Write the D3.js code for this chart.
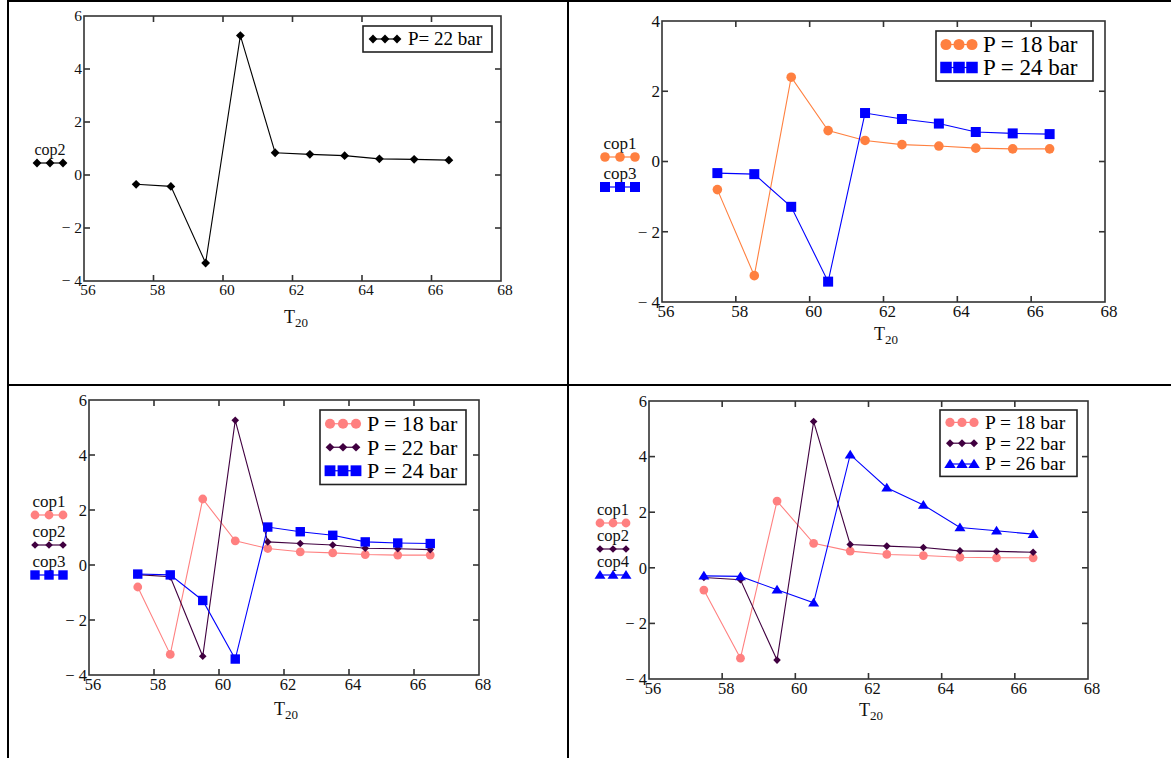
<!DOCTYPE html>
<html>
<head>
<meta charset="utf-8">
<script src="https://cdn.jsdelivr.net/npm/d3@7"></script>
<style>
body { margin: 0; background: #fff; }
svg { display: block; }
svg text { font-family: "Liberation Serif", "DejaVu Serif", serif; }
</style>
</head>
<body>
<div id="chart"></div>
<script>
// T20 sample points and the four cop series
const temps = [57.5, 58.5, 59.5, 60.5, 61.5, 62.5, 63.5, 64.5, 65.5, 66.5];
const cop1 = [-0.8, -3.25, 2.4, 0.88, 0.6, 0.48, 0.44, 0.38, 0.36, 0.36];
const cop2 = [-0.35, -0.43, -3.32, 5.26, 0.84, 0.78, 0.73, 0.61, 0.59, 0.56];
const cop3 = [-0.33, -0.36, -1.29, -3.42, 1.38, 1.21, 1.08, 0.84, 0.8, 0.78];
const cop4 = [-0.29, -0.31, -0.79, -1.26, 4.07, 2.88, 2.26, 1.45, 1.33, 1.21];

const xTicks = [56, 58, 60, 62, 64, 66, 68];
const yTicksTall = [-4, -2, 0, 2, 4, 6];
const yTicksShort = [-4, -2, 0, 2, 4];

const W = 1171, H = 758;

const orange = "#ff8040", salmon = "#ff8080", plum = "#400040", blue = "#0000ff";

const s18o = {name: "cop1", values: cop1, color: orange, shape: "circle", r: 4.8, legend: "P = 18 bar"};
const s18 = {name: "cop1", values: cop1, color: salmon, shape: "circle", r: 4.4, legend: "P = 18 bar"};
const s22k = {name: "cop2", values: cop2, color: "#000", shape: "diamond", r: 4.4, legend: "P= 22 bar"};
const s22 = {name: "cop2", values: cop2, color: plum, shape: "diamond", r: 3.8, legend: "P = 22 bar"};
const s24 = {name: "cop3", values: cop3, color: blue, shape: "square", r: 5, legend: "P = 24 bar"};
const s24b = {name: "cop3", values: cop3, color: blue, shape: "square", r: 4.7, legend: "P = 24 bar"};
const s26 = {name: "cop4", values: cop4, color: blue, shape: "triangle", r: 5, legend: "P = 26 bar"};

const panels = [
    {box: [84, 16, 501, 281], yTicks: yTicksTall, tickFont: 15.5, series: [s22k],
     legend: {x: 363, y: 26, w: 129, rowH: 22, font: 19, symW: 24, mk: 1.0},
     yLab: {cx: 50, y0: 155, step: 29, font: 16, w: 26}, xLab: [296, 323]},
    {box: [662, 21, 1105, 302], yTicks: yTicksShort, tickFont: 17, series: [s18o, s24],
     legend: {x: 936, y: 31, w: 157, rowH: 23, font: 23, symW: 26, mk: 1.15},
     yLab: {cx: 620, y0: 149, step: 30, font: 17, w: 30}, xLab: [886, 340]},
    {box: [89, 400, 479, 675], yTicks: yTicksTall, tickFont: 16.5, series: [s18, s22, s24b],
     legend: {x: 320, y: 410, w: 146, rowH: 23.5, font: 22, symW: 26, mk: 1.15},
     yLab: {cx: 49, y0: 507, step: 30, font: 17, w: 28}, xLab: [286, 715]},
    {box: [649, 401, 1088, 679], yTicks: yTicksTall, tickFont: 16.5, series: [s18, s22, s26],
     legend: {x: 940, y: 410, w: 137, rowH: 20.8, font: 19.5, symW: 24, mk: 1.05},
     yLab: {cx: 613, y0: 515, step: 26, font: 16.5, w: 26}, xLab: [871, 716]}
];

const svg = d3.select("#chart").append("svg")
    .attr("width", W).attr("height", H);

svg.append("rect").attr("width", W).attr("height", H).attr("fill", "#fff");

// table grid lines
const grid = svg.append("g").attr("stroke", "#000").attr("stroke-width", 2);
grid.append("line").attr("x1", 7).attr("x2", W).attr("y1", 1).attr("y2", 1);
grid.append("line").attr("x1", 7).attr("x2", W).attr("y1", 385).attr("y2", 385);
grid.append("line").attr("x1", 8).attr("x2", 8).attr("y1", 0).attr("y2", H);
grid.append("line").attr("x1", 568).attr("x2", 568).attr("y1", 0).attr("y2", H);

function marker(g, s, x, y, k = 1) {
    let p;
    const r = s.r * k;
    if (s.shape === "circle") {
        p = g.append("circle").attr("cx", x).attr("cy", y).attr("r", r);
    } else if (s.shape === "square") {
        p = g.append("rect").attr("x", x - r).attr("y", y - r)
            .attr("width", 2 * r).attr("height", 2 * r);
    } else if (s.shape === "diamond") {
        p = g.append("path").attr("d", `M${x},${y - r}L${x + r},${y}L${x},${y + r}L${x - r},${y}Z`);
    } else {
        p = g.append("path").attr("d", `M${x},${y - r}L${x + r * 1.1},${y + r * 0.75}L${x - r * 1.1},${y + r * 0.75}Z`);
    }
    p.attr("fill", s.color);
}

function symbolRow(g, s, x0, y, w, k = 1) {
    g.append("line").attr("x1", x0).attr("x2", x0 + w).attr("y1", y).attr("y2", y)
        .attr("stroke", s.color).attr("stroke-width", 1.2);
    [0, 0.5, 1].forEach(f => marker(g, s, x0 + f * w, y, k));
}

function fmt(v) {
    return v < 0 ? "\u2212 " + Math.abs(v) : String(v);
}

panels.forEach(pn => {
    const [x0, y0, x1, y1] = pn.box;
    const x = d3.scaleLinear().domain([56, 68]).range([x0, x1]);
    const y = d3.scaleLinear().domain(d3.extent(pn.yTicks)).range([y1, y0]);
    const g = svg.append("g");

    // data
    pn.series.forEach(s => {
        const pts = temps.map((t, i) => [x(t), y(s.values[i])]);
        g.append("path")
            .attr("d", d3.line()(pts))
            .attr("fill", "none").attr("stroke", s.color).attr("stroke-width", 1.1);
        const mg = g.append("g");
        pts.forEach(p => marker(mg, s, p[0], p[1]));
    });

    // frame and inward ticks
    const fr = g.append("g").attr("stroke", "#333").attr("stroke-width", 1.6).attr("fill", "none");
    fr.append("rect").attr("x", x0).attr("y", y0).attr("width", x1 - x0).attr("height", y1 - y0);
    const tl = 6;
    xTicks.slice(1, -1).forEach(t => {
        fr.append("line").attr("x1", x(t)).attr("x2", x(t)).attr("y1", y1).attr("y2", y1 - tl);
        fr.append("line").attr("x1", x(t)).attr("x2", x(t)).attr("y1", y0).attr("y2", y0 + tl);
    });
    pn.yTicks.slice(1, -1).forEach(t => {
        fr.append("line").attr("x1", x0).attr("x2", x0 + tl).attr("y1", y(t)).attr("y2", y(t));
        fr.append("line").attr("x1", x1).attr("x2", x1 - tl).attr("y1", y(t)).attr("y2", y(t));
    });

    // tick labels
    const lab = g.append("g").attr("font-size", pn.tickFont).attr("fill", "#111");
    xTicks.forEach(t => {
        lab.append("text").attr("x", x(t) + 4).attr("y", y1 + 3 + pn.tickFont * 0.72)
            .attr("text-anchor", "middle").text(t);
    });
    pn.yTicks.forEach(t => {
        lab.append("text").attr("x", x0 - 2).attr("y", y(t)).attr("dy", "0.35em")
            .attr("text-anchor", "end").text(fmt(t));
    });

    // x axis title
    const xt = g.append("text").attr("font-size", 18)
        .attr("x", pn.xLab[0]).attr("y", pn.xLab[1]).attr("text-anchor", "middle").attr("fill", "#111");
    xt.append("tspan").text("T");
    xt.append("tspan").attr("font-size", 13).attr("dy", 4).text("20");

    // stacked y axis names
    pn.series.forEach((s, i) => {
        const ly = pn.yLab.y0 + i * pn.yLab.step;
        g.append("text").attr("font-size", pn.yLab.font)
            .attr("x", pn.yLab.cx).attr("y", ly).attr("text-anchor", "middle").attr("fill", "#111")
            .text(s.name);
        symbolRow(g, s, pn.yLab.cx - pn.yLab.w / 2, ly + 8, pn.yLab.w);
    });

    // legend
    const L = pn.legend;
    const lh = pn.series.length * L.rowH + 4;
    g.append("rect").attr("x", L.x).attr("y", L.y).attr("width", L.w).attr("height", lh)
        .attr("fill", "#fff").attr("stroke", "#222").attr("stroke-width", 1.6);
    pn.series.forEach((s, i) => {
        const cy = L.y + 2 + L.rowH * (i + 0.5);
        symbolRow(g, s, L.x + 10, cy, L.symW, L.mk);
        g.append("text").attr("font-size", L.font)
            .attr("x", L.x + L.symW + 21).attr("y", cy).attr("dy", "0.33em").attr("fill", "#000")
            .text(s.legend);
    });
});
</script>
</body>
</html>
